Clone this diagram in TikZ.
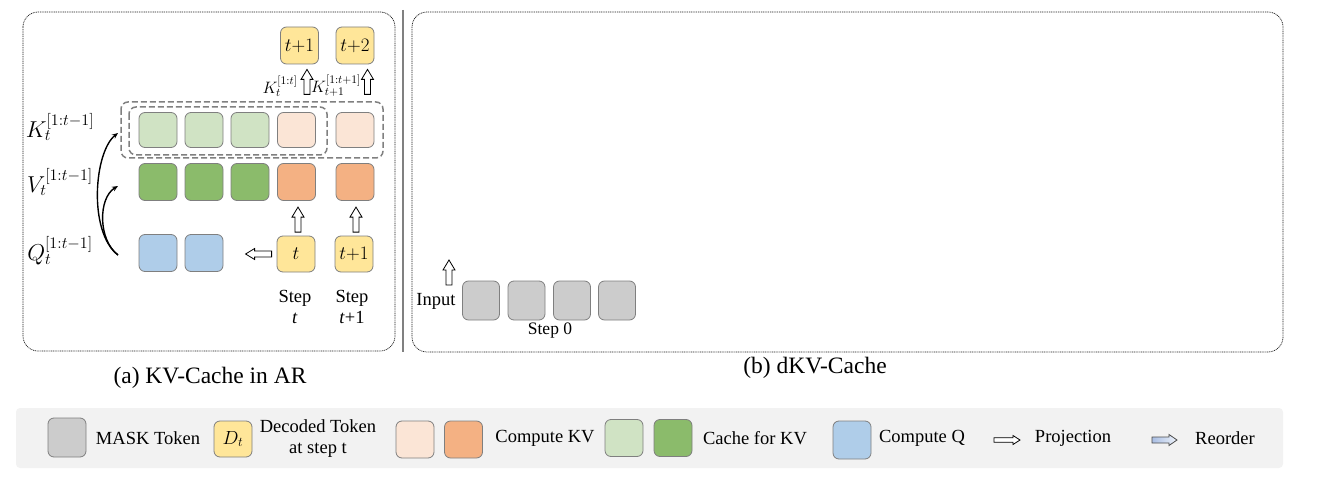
\RequirePackage{fix-cm}
\documentclass[tikz,border=0pt]{standalone}
\usepackage{fontspec}
\setmainfont{Liberation Serif}
\usetikzlibrary{arrows.meta,calc}
\definecolor{maskc}{HTML}{CCCCCC}
\definecolor{yelc}{HTML}{FFE699}
\definecolor{peachc}{HTML}{FBE5D6}
\definecolor{orangec}{HTML}{F4B183}
\definecolor{lgreenc}{HTML}{D0E3C4}
\definecolor{greenc}{HTML}{8BBB6B}
\definecolor{bluec}{HTML}{AFCDE9}
\definecolor{boxline}{HTML}{7F7F7F}
\definecolor{legbg}{HTML}{F2F2F2}
\definecolor{dashc}{HTML}{808080}
\definecolor{sepc}{HTML}{808080}
\definecolor{reordl}{HTML}{A9BEE3}
\definecolor{reordr}{HTML}{EEF3FB}
% block arrow: style, origin, rotation, length, head half width, shaft half width, head length
\newcommand\blkarrow[7]{\path[#1,shift={#2},rotate=#3] (0,-#6) -- ({#4-#7},-#6) -- ({#4-#7},-#5) -- (#4,0) -- ({#4-#7},#5) -- ({#4-#7},#6) -- (0,#6) -- cycle;}
\begin{document}
\begin{tikzpicture}[x=1pt,y=-1pt,
 tok/.style={draw=boxline,line width=0.8pt,rounded corners=6pt,minimum width=38pt,minimum height=37pt,inner sep=0pt,font=\fontsize{19}{21}\selectfont},
 lbl/.style={inner sep=0pt,font=\fontsize{18.5}{21}\selectfont,align=center},
 mlbl/.style={inner sep=0pt,font=\fontsize{23}{26}\selectfont},
 slbl/.style={inner sep=0pt,font=\fontsize{16.5}{18}\selectfont},
 captxt/.style={inner sep=0pt,font=\fontsize{23.5}{26}\selectfont},
 panel/.style={draw=black!90,line width=0.7pt,dash pattern=on 1pt off 0.8pt,rounded corners=15pt},
 grp/.style={draw=dashc,line width=1.5pt,dash pattern=on 6pt off 3pt,rounded corners=7pt},
 proj/.style={draw=black,line width=0.8pt,fill=white},
 reord/.style={draw=black!70,line width=0.8pt,left color=reordl,right color=reordr},
 curv/.style={line width=1.4pt,-{Stealth[length=6pt,width=5pt]}}
]
\useasboundingbox (0,0) rectangle (1327,481);

% panels and separator
\draw[panel] (23,12) rectangle (395,351);
\draw[panel] (412,12) rectangle (1283,352);
\draw[sepc,line width=2pt] (403,10) -- (403,352);

% group boxes for K
\draw[grp] (121,102) rectangle (383,158);
\draw[grp] (129,107) rectangle (327,155);

% K row
\node[tok,fill=lgreenc,minimum height=35pt] (k1) at (158,130) {};
\node[tok,fill=lgreenc,minimum height=35pt] (k2) at (204,130) {};
\node[tok,fill=lgreenc,minimum height=35pt] (k3) at (250,130) {};
\node[tok,fill=peachc,minimum height=35pt] (k4) at (296.5,130) {};
\node[tok,fill=peachc,minimum height=35pt] (k5) at (355,130) {};
% V row
\node[tok,fill=greenc] (v1) at (158,182) {};
\node[tok,fill=greenc] (v2) at (204,182) {};
\node[tok,fill=greenc] (v3) at (250,182) {};
\node[tok,fill=orangec] (v4) at (296.5,182) {};
\node[tok,fill=orangec] (v5) at (355,182) {};
% Q row and decoded tokens
\node[tok,fill=bluec] (q1) at (158,253) {};
\node[tok,fill=bluec] (q2) at (204,253) {};
\node[tok,fill=yelc,minimum height=36pt] (dt) at (296,254) {$t$};
\node[tok,fill=yelc,minimum height=36pt] (dt1) at (354,254) {$t{+}1$};
% outputs
\node[tok,fill=yelc] (o1) at (299.5,45.5) {$t{+}1$};
\node[tok,fill=yelc] (o2) at (355,45.5) {$t{+}2$};

% labels
\node[mlbl] (kl) at (60,127) {$K_t^{[1:t-1]}$};
\node[mlbl] (vl) at (60,182) {$V_t^{[1:t-1]}$};
\node[mlbl] (ql) at (60,251) {$Q_t^{[1:t-1]}$};
\node[slbl] (kt) at (280,86) {$K_t^{[1:t]}$};
\node[slbl] (kt1) at (336,86) {$K_{t+1}^{[1:t+1]}$};

% curved arrows
\coordinate (qs) at (118,255);
\coordinate (ke) at (118,133);
\coordinate (ve) at (118,186);
\draw[curv] (qs) .. controls (88,232) and (94,152) .. (ke);
\draw[curv] (qs) .. controls (98,240) and (98,198) .. (ve);

% projection arrows
\blkarrow{proj}{($(dt.north)+(2,-3.5)$)}{90}{25}{6}{3}{10}
\blkarrow{proj}{($(dt1.north)+(2,-3.5)$)}{90}{25}{6}{3}{10}
\blkarrow{proj}{($(o1.south)+(7.5,30)$)}{90}{25}{6}{3}{10}
\blkarrow{proj}{($(o2.south)+(12.5,30)$)}{90}{25}{6}{3}{10}
\blkarrow{proj}{($(dt.west)+(-5,0)$)}{180}{26}{5.5}{3}{9}

% step labels
\node[lbl] (s1) at (295,307) {Step\\\textit{t}};
\node[lbl] (s2) at (352,307) {Step\\\textit{t}+1};

% panel (b)
\node[tok,fill=maskc,minimum width=37pt,minimum height=39pt] (m1) at (481,300.5) {};
\node[tok,fill=maskc,minimum width=37pt,minimum height=39pt] (m2) at (526.5,300.5) {};
\node[tok,fill=maskc,minimum width=37pt,minimum height=39pt] (m3) at (572,300.5) {};
\node[tok,fill=maskc,minimum width=37pt,minimum height=39pt] (m4) at (617,300.5) {};
\node[lbl] (inp) at (436,301) {Input};
\blkarrow{proj}{(449,285)}{90}{25}{6}{3}{10}
\node[lbl,font=\fontsize{17.5}{20}\selectfont] (s0) at (550,331) {Step 0};

% captions
\node[captxt] (capa) at (210,378) {(a) KV-Cache in AR};
\node[captxt] (capb) at (815,368) {(b) dKV-Cache};

% legend
\fill[legbg,rounded corners=4pt] (16,408) rectangle (1283,468);
\node[tok,fill=maskc,minimum height=39pt] (lg1) at (67,437.5) {};
\node[lbl] (lt1) at (148,438) {MASK Token};
\node[tok,fill=yelc,minimum height=36pt] (lg2) at (233,439) {$D_t$};
\node[lbl] (lt2) at (318,438.5) {Decoded Token\\at step t};
\node[tok,fill=peachc] (lg3) at (415,439.5) {};
\node[tok,fill=orangec] (lg4) at (463.5,439.5) {};
\node[lbl] (lt3) at (545,438) {Compute KV};
\node[tok,fill=lgreenc] (lg5) at (624,438) {};
\node[tok,fill=greenc] (lg6) at (673,438) {};
\node[lbl] (lt4) at (755,438) {Cache for KV};
\node[tok,fill=bluec,minimum height=38pt] (lg7) at (852,440) {};
\node[lbl] (lt5) at (922,438) {Compute Q};
\coordinate (pja) at (994,440);
\blkarrow{proj}{(pja)}{0}{26}{4.5}{2.2}{7}
\node[lbl] (lt6) at (1073,438) {Projection};
\coordinate (rda) at (1152,440);
\blkarrow{reord}{(rda)}{0}{25}{5.5}{3}{8}
\node[lbl] (lt7) at (1225,438) {Reorder};
\end{tikzpicture}
\end{document}
